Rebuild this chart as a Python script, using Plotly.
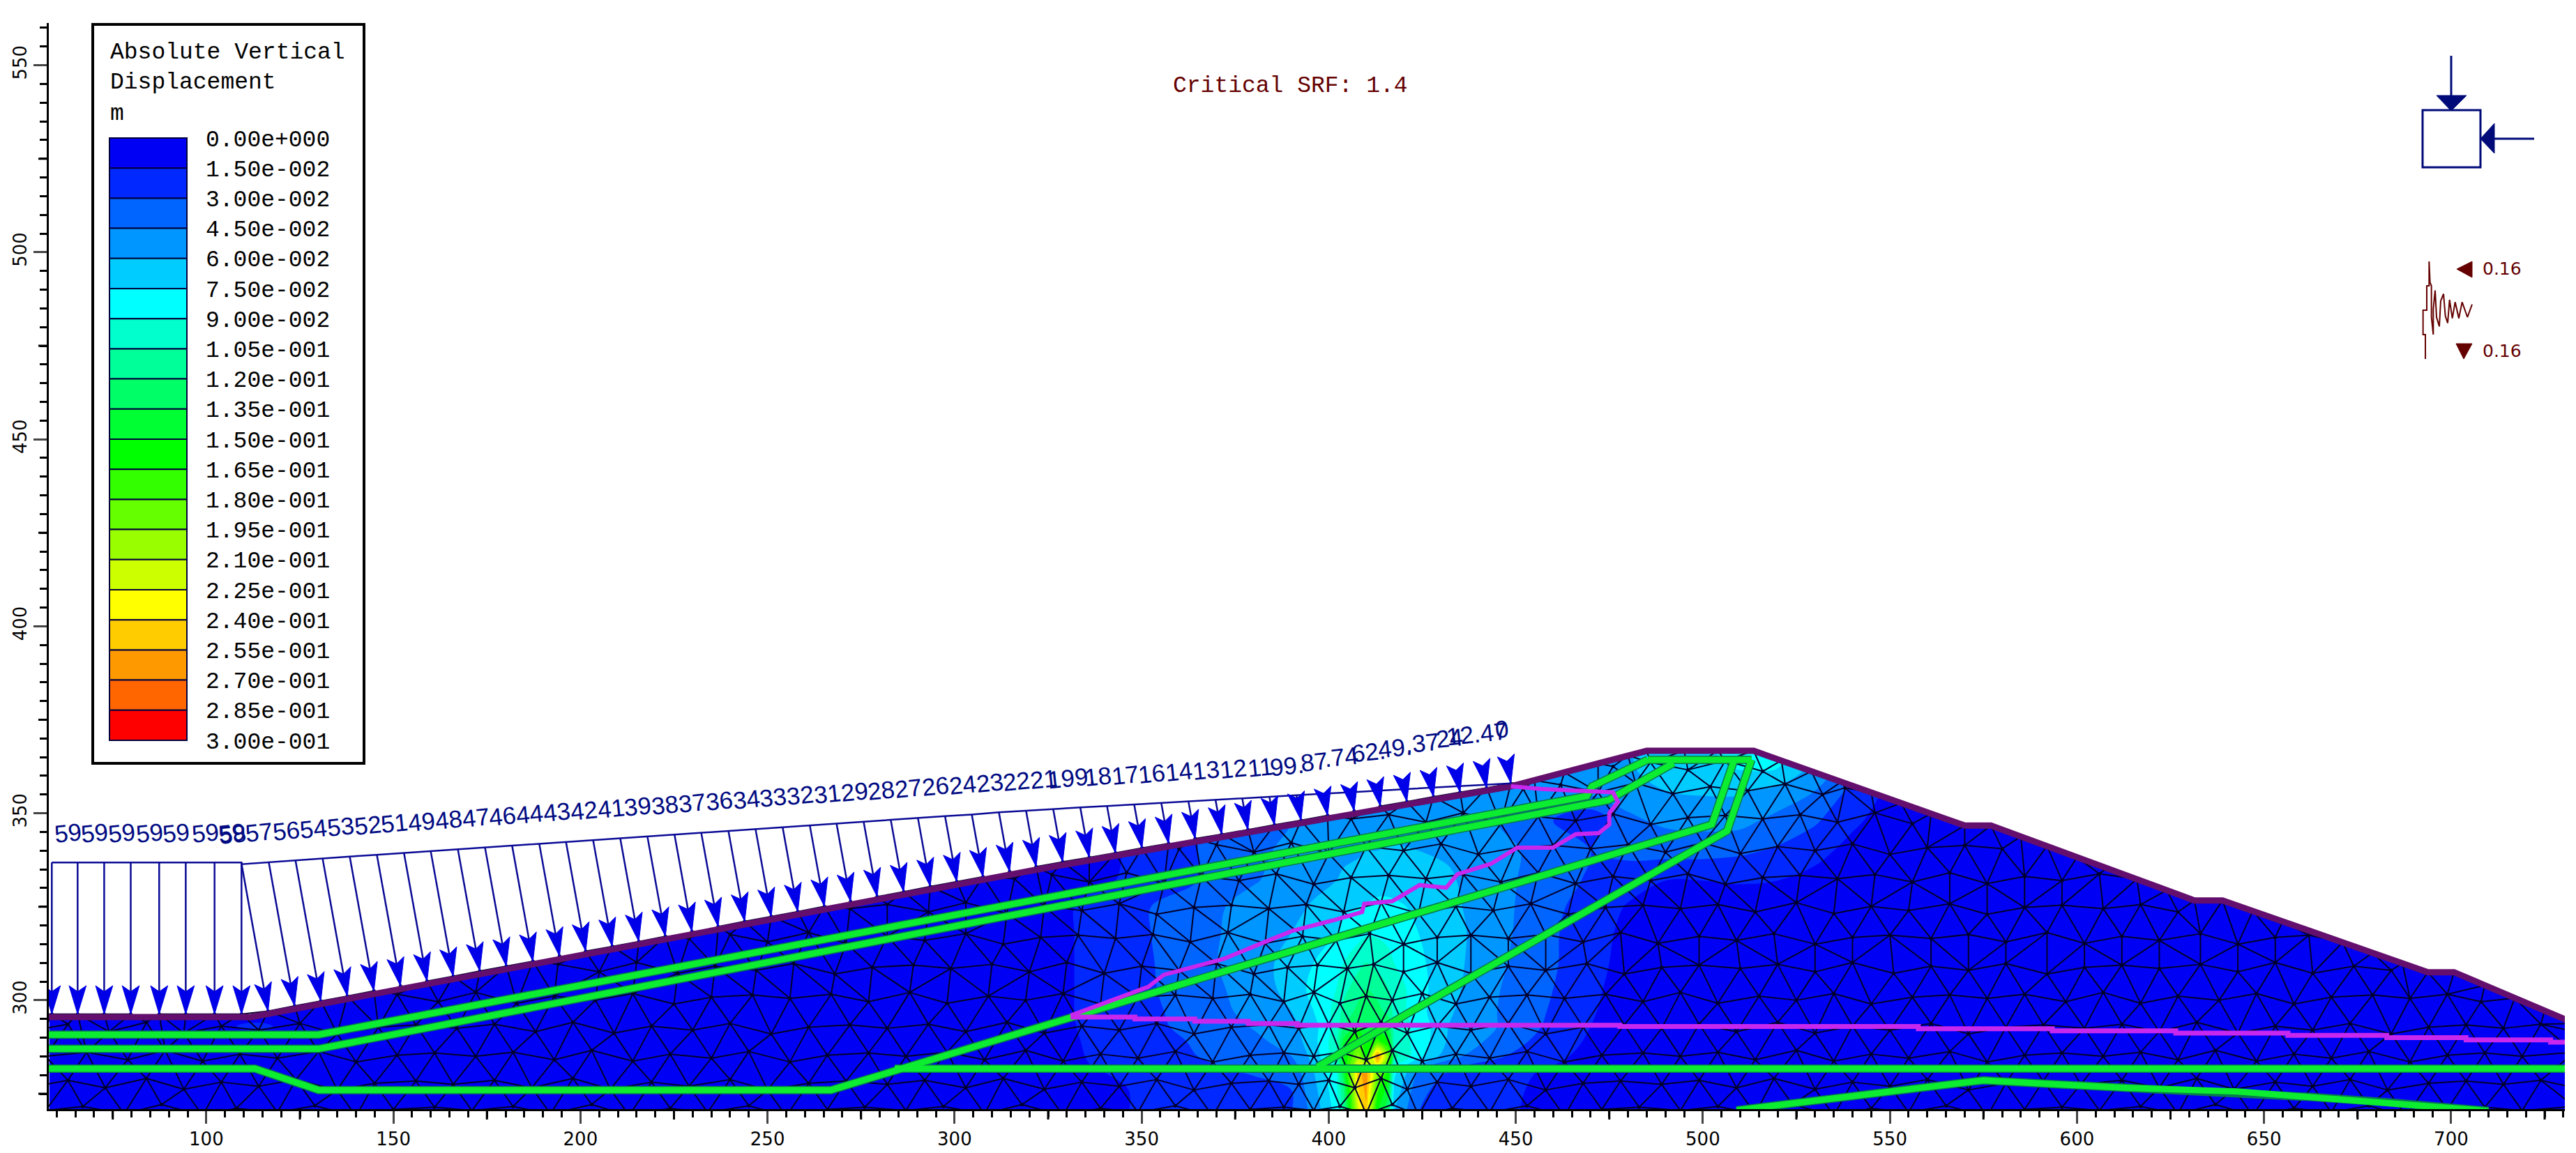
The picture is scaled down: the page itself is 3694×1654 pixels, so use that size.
import numpy as np
import plotly.graph_objects as go

# ---- legend
legend_title = ["Absolute Vertical", "Displacement", "m"]
legend_labels = ["0.00e+000", "1.50e-002", "3.00e-002", "4.50e-002", "6.00e-002", "7.50e-002", "9.00e-002",
                 "1.05e-001", "1.20e-001", "1.35e-001", "1.50e-001", "1.65e-001", "1.80e-001", "1.95e-001",
                 "2.10e-001", "2.25e-001", "2.40e-001", "2.55e-001", "2.70e-001", "2.85e-001", "3.00e-001"]
band_colors = ["#0000f5", "#0028ff", "#0064ff", "#0096ff", "#00ccff", "#00ffff", "#00ffcc", "#00ff99", "#00ff66",
               "#00ff33", "#00ff00", "#33ff00", "#66ff00", "#99ff00", "#ccff00", "#ffff00", "#ffcc00", "#ff9900",
               "#ff6600", "#ff0000"]

# ---- geometry of the dam
surface_x = [57, 112, 324, 448.7, 485, 513.6, 570, 577, 631.4, 638.9, 693.8, 700.8, 733]
surface_y = [295.5, 295.5, 335.3, 357.2, 366.7, 366.7, 346.7, 346.7, 326.7, 326.7, 307.5, 307.5, 293.8]
filter_upper_x = [57, 130, 469, 470.4, 485.3]
filter_upper_y = [290.8, 290.8, 354.6, 357.2, 364.3]
filter_lower_x = [57, 130, 474.8, 477.3, 492.2]
filter_lower_y = [287, 287, 353.5, 355, 363.4]
crest_x = [485.3, 513]
crest_y = [364.3, 364.3]
core_up_x = [57, 113, 130, 267, 332.5, 502.4, 508.4]
core_up_y = [281.7, 281.7, 276, 276, 295.8, 347, 364.3]
core_down_x = [513, 506.5, 421.3, 397]
core_down_y = [364.3, 345.3, 296.6, 282.2]
drain_x = [284, 733]
drain_y = [281.7, 281.7]
hump_x = [509, 565, 575, 593, 613, 643, 663, 683, 703, 710]
hump_y = [270.6, 277.6, 278.6, 277.6, 276.6, 275.6, 274.1, 272.7, 270.9, 270.4]
slip_top_x = [331, 351.8, 355.9, 372, 381.5, 390.4, 401.6, 408.9, 409.5, 417, 424.3, 431.4, 434.4, 443.4, 450.4, 459.9,
              466, 472.2, 475, 475, 477.3, 476, 456.8, 448.7]
slip_top_y = [295.9, 303.6, 306.8, 311.1, 315, 318.6, 321.5, 323.6, 325.8, 326.5, 330.8, 330.1, 333.7, 336.5, 340.8,
              340.8, 344.4, 344.7, 347, 350, 353, 355.6, 356.5, 357.2]
slip_base_x = [331, 348.2, 364.2, 378.5, 391.6, 477.8, 557.6, 593.4, 626.4, 656.4, 682.8, 704, 726.6, 733]
slip_base_y = [295.5, 295, 294.4, 293.8, 293.3, 293, 292.4, 291.8, 291.2, 290.6, 290, 289.4, 288.8, 288.8]

# ---- water load on the upstream face (nodes and kPa)
load_x = [58.7, 65.6, 72.7, 79.8, 87.4, 94.5, 102.2, 109.4, 116.5, 123.6, 130.6, 137.7, 144.8, 151.9, 159, 166, 173.1,
          180.2, 187.3, 194.4, 201.4, 208.5, 215.6, 222.7, 229.8, 236.8, 243.9, 251, 258.1, 265.2, 272.2, 279.3, 286.4,
          293.5, 300.6, 307.6, 314.7, 321.8, 328.9, 336, 343, 350.1, 357.2, 364.3, 371.4, 378.4, 385.5, 392.6, 399.7,
          406.8, 413.8, 420.9, 428, 435.1, 442.2, 448.7]
load_y = [296.3, 296.3, 296.3, 296.3, 296.3, 296.3, 296.3, 296.3, 297.1, 298.5, 299.8, 301.1, 302.5, 303.8, 305.1,
          306.4, 307.8, 309.1, 310.4, 311.8, 313.1, 314.4, 315.7, 317.1, 318.4, 319.7, 321.1, 322.4, 323.7, 325.1,
          326.4, 327.7, 329, 330.4, 331.7, 333, 334.4, 335.7, 337, 338.2, 339.4, 340.7, 341.9, 343.2, 344.4, 345.6,
          346.9, 348.1, 349.4, 350.6, 351.9, 353.1, 354.4, 355.6, 356.8, 358]
load_kpa = [596, 596, 596, 596, 596, 596, 596, 596, 587, 574, 562, 549, 537, 524, 512, 499, 487, 474, 462, 449, 437,
            424, 412, 399, 387, 374, 362, 349, 337, 324, 312, 299, 287, 274, 262, 249, 237, 224, 212, 199.6, 187, 174,
            162, 149, 137, 124.7, 112, 99.8, 87, 74.8, 62, 49.9, 37.4, 24.9, 12.47, 0]
load_text = ["59", "59", "59", "59", "59", "59", "59", "59", "58", "57", "56", "54", "53", "52", "51", "49", "48", "47",
             "46", "44", "43", "42", "41", "39", "38", "37", "36", "34", "33", "32", "31", "29", "28", "27", "26", "24",
             "23", "22", "21", "199.", "18", "17", "16", "14", "13", "12", "11", "99.", "87", ".74", "62.", "49.", ".37",
             "24", "12.47", "0"]

# ---- mesh nodes, row by row
mesh_rows = {
    270.5: [57, 67, 78, 88, 99, 108, 119, 129, 140, 150, 161, 171, 182, 192, 203, 213, 224, 234, 245, 255, 266, 276,
            287, 297, 308, 318, 329, 339, 349, 359, 369, 379, 388, 396, 403, 410, 417, 424, 433, 443, 453, 463, 473,
            483, 494, 504, 514, 524, 535, 545, 555, 565, 576, 586, 596, 606, 617, 627, 637, 647, 658, 668, 678, 688,
            699, 709, 719, 733],
    277.5: [57, 63, 73, 84, 94, 104, 114, 124, 135, 145, 156, 166, 177, 187, 198, 208, 219, 229, 240, 250, 261, 271,
            282, 292, 303, 313, 324, 334, 344, 354, 364, 374, 384, 392, 400, 407, 414, 421, 429, 438, 448, 458, 468,
            478, 489, 499, 509, 519, 530, 540, 550, 560, 571, 581, 591, 601, 612, 622, 632, 642, 653, 663, 673, 683,
            694, 704, 714, 724, 733],
    285: [57, 68, 79, 89, 99, 109, 119, 130, 140, 151, 161, 172, 182, 193, 203, 214, 224, 235, 245, 256, 266, 277, 287,
          298, 308, 319, 329, 339, 349, 359, 369, 379, 388, 396, 403, 410, 417, 425, 434, 443, 453, 463, 473, 484, 494,
          504, 514, 525, 535, 545, 555, 566, 576, 586, 596, 607, 617, 627, 637, 648, 658, 668, 678, 689, 699, 709, 719,
          733],
    292.5: [57, 63, 74, 84, 94, 104, 114, 125, 135, 146, 156, 167, 177, 188, 198, 209, 219, 230, 240, 251, 261, 272, 282,
            293, 303, 314, 324, 334, 344, 354, 364, 374, 384, 392, 400, 407, 414, 421, 429, 438, 448, 458, 468, 479, 489,
            499, 509, 520, 530, 540, 550, 561, 571, 581, 591, 602, 612, 622, 632, 643, 653, 663, 673, 684, 694, 704, 714,
            724, 733],
    300.5: [141, 151, 162, 172, 183, 193, 204, 214, 225, 235, 246, 256, 267, 277, 288, 298, 309, 319, 329, 339, 349, 359,
            369, 379, 388, 396, 403, 410, 417, 425, 434, 443, 453, 463, 474, 484, 494, 504, 515, 525, 535, 545, 556, 566,
            576, 586, 597, 607, 617, 627, 638, 648, 658, 668, 679, 689, 699, 708, 716],
    308.5: [184, 194, 205, 215, 226, 236, 247, 257, 268, 278, 289, 299, 310, 320, 330, 340, 350, 360, 370, 380, 389, 397,
            405, 412, 420, 429, 438, 448, 458, 469, 479, 489, 499, 510, 520, 530, 540, 551, 561, 571, 581, 592, 602, 612,
            622, 633, 643, 653, 663, 674, 684],
    316.5: [229, 240, 250, 261, 271, 282, 292, 303, 313, 323, 333, 343, 353, 363, 373, 383, 393, 402, 411, 420, 429, 438,
            448, 458, 468, 478, 488, 499, 509, 519, 530, 540, 550, 561, 571, 581, 592, 602, 612, 622, 633, 643, 653, 662],
    324.5: [272, 282, 293, 303, 314, 324, 334, 344, 354, 364, 374, 384, 394, 404, 414, 424, 434, 444, 454, 464, 474, 484,
            494, 504, 514, 525, 535, 545, 555, 566, 576, 586, 596, 607, 617, 627, 637],
    332.5: [316, 326, 336, 346, 356, 366, 376, 386, 396, 406, 416, 426, 436, 446, 456, 466, 476, 486, 496, 506, 516, 526,
            536, 546, 556, 566, 576, 586, 596, 606],
    340.5: [360, 370, 380, 390, 400, 410, 420, 430, 440, 450, 460, 470, 480, 490, 500, 510, 520, 530, 540, 550, 560, 570,
            580],
    348.5: [406, 416, 426, 436, 446, 456, 466, 476, 486, 496, 506, 516, 526, 536, 546, 556],
    356.5: [452, 462, 472, 482, 492, 502, 512, 522, 532, 538],
    362.5: [476, 486, 496, 506, 516, 524],
}
# the rows in the picture are not straight, nodes sit a little above or below
row_jog = [0, 1.1, -0.9, 1.6, -1.3, 0.6, -0.5, 1.3, -1.5, 0.3, 0.9]
crest_nodes_x = [455, 463, 472, 480, 485, 495, 504, 513.6, 521, 529, 537, 545, 553, 561, 570, 577, 585, 592, 600, 608,
                 616, 624, 631.4, 638.9, 647, 655, 663, 671, 679, 687, 693.8, 700.8, 709, 717, 725, 733]
crest_nodes_y = [358.8, 360.9, 363.3, 365.4, 366.7, 366.7, 366.7, 366.7, 364.1, 361.2, 358.4, 355.6, 352.7, 349.9, 346.7,
                 346.7, 343.8, 341.2, 338.2, 335.3, 332.4, 329.4, 326.7, 326.7, 323.9, 321.1, 318.3, 315.5, 312.7, 309.9,
                 307.5, 307.5, 304, 300.6, 297.2, 293.8]

# ---- displacement field (m)
field_x = [58, 100, 110, 116, 125, 200, 300, 328, 336, 350, 365, 380, 390, 396, 402, 404, 408, 410, 413, 416, 417.5, 424,
           432, 445, 460, 470, 480, 490, 500, 510, 520, 530, 540, 550, 560, 733]
field_y = [270, 276, 281, 285, 289, 293, 297, 303, 310, 318, 325, 332, 340, 348, 356, 362, 368, 372]
z_270 = [.007, .007, .007, .007, .007, .007, .007, .007, .012, .016, .018, .02,
         .03, .05, .08, .11, .22, .25, .15, .12, .06, .03,
         .02, .017, .012, .009, .007, .007, .007, .007, .007, .007, .007, .007, .007, .007]
z_276 = [.007, .007, .007, .007, .007, .007, .007, .007, .012, .016, .02, .024,
         .03, .055, .085, .12, .24, .26, .17, .14, .07, .035,
         .022, .018, .012, .009, .007, .007, .007, .007, .007, .007, .007, .007, .007, .007]
z_281 = [.007, .007, .007, .007, .007, .007, .007, .008, .014, .018, .025, .032,
         .035, .06, .09, .14, .25, .26, .2, .16, .08, .045,
         .03, .02, .013, .01, .007, .007, .007, .007, .007, .007, .007, .007, .007, .007]
z_285 = [.007, .007, .007, .007, .007, .007, .007, .009, .016, .02, .03, .038,
         .045, .065, .1, .15, .2, .16, .27, .19, .11, .08,
         .05, .032, .018, .011, .008, .007, .007, .007, .007, .007, .007, .007, .007, .007]
z_289 = [.007, .007, .007, .007, .007, .007, .007, .01, .017, .022, .032, .042,
         .05, .07, .1, .14, .18, .15, .17, .15, .1, .085,
         .058, .04, .022, .013, .009, .007, .007, .007, .007, .007, .007, .007, .007, .007]
z_293 = [.007, .007, .017, .017, .007, .007, .007, .011, .018, .025, .035, .046,
         .055, .07, .095, .12, .14, .13, .14, .13, .1, .085,
         .06, .045, .026, .015, .01, .007, .007, .007, .007, .007, .007, .007, .007, .007]
z_297 = [.007, .007, .007, .007, .007, .007, .007, .012, .018, .026, .036, .05,
         .06, .075, .095, .11, .125, .125, .125, .115, .1, .08,
         .062, .045, .028, .016, .01, .008, .007, .007, .007, .007, .007, .007, .007, .007]
z_303 = [.007, .007, .007, .007, .007, .007, .007, .012, .018, .027, .038, .052,
         .065, .08, .09, .1, .115, .12, .115, .105, .1, .08,
         .065, .046, .03, .017, .011, .008, .007, .007, .007, .007, .007, .007, .007, .007]
z_310 = [.007, .007, .007, .007, .007, .007, .007, .012, .018, .027, .04, .054,
         .065, .075, .085, .09, .1, .105, .1, .095, .09, .078,
         .066, .048, .032, .018, .012, .008, .007, .007, .007, .007, .007, .007, .007, .007]
z_318 = [.007, .007, .007, .007, .007, .007, .007, .012, .018, .028, .04, .052,
         .06, .068, .075, .08, .085, .088, .088, .085, .083, .075,
         .066, .05, .032, .02, .012, .008, .007, .007, .007, .007, .007, .007, .007, .007]
z_325 = [.007, .007, .007, .007, .007, .007, .007, .012, .018, .028, .04, .05,
         .055, .062, .068, .072, .075, .076, .078, .078, .077, .073,
         .064, .05, .034, .022, .014, .012, .01, .009, .008, .007, .007, .007, .007, .007]
z_332 = [.007, .007, .007, .007, .007, .007, .007, .008, .012, .018, .03, .044,
         .05, .055, .06, .063, .066, .068, .07, .07, .07, .068,
         .062, .05, .036, .028, .02, .015, .015, .016, .015, .01, .007, .007, .007, .007]
z_340 = [.007, .007, .007, .007, .007, .007, .007, .007, .01, .018, .03, .042,
         .048, .05, .053, .056, .058, .06, .06, .062, .062, .06,
         .058, .05, .038, .03, .035, .036, .036, .033, .028, .02, .01, .007, .007, .007]
z_348 = [.007, .007, .007, .007, .007, .007, .007, .007, .01, .018, .03, .04,
         .045, .048, .05, .05, .052, .052, .053, .053, .053, .052,
         .05, .045, .03, .018, .042, .048, .05, .05, .04, .032, .018, .008, .007, .007]
z_356 = [.007, .007, .007, .007, .007, .007, .007, .007, .01, .018, .03, .04,
         .05, .05, .05, .05, .05, .05, .05, .05, .05, .05,
         .05, .05, .05, .05, .052, .06, .062, .062, .056, .045, .026, .012, .007, .007]
z_362 = [.007, .007, .007, .007, .007, .007, .007, .007, .01, .018, .03, .04,
         .05, .05, .05, .05, .05, .05, .05, .05, .05, .05,
         .05, .05, .05, .05, .058, .068, .07, .076, .075, .055, .035, .015, .008, .007]
z_368 = [.007, .007, .007, .007, .007, .007, .007, .007, .01, .018, .03, .04,
         .05, .05, .05, .05, .05, .05, .05, .05, .05, .05,
         .05, .05, .05, .05, .058, .07, .072, .085, .082, .06, .035, .015, .008, .007]
z_372 = [.007, .007, .007, .007, .007, .007, .007, .007, .01, .018, .03, .04,
         .05, .05, .05, .05, .05, .05, .05, .05, .05, .05,
         .05, .05, .05, .05, .058, .07, .072, .085, .082, .06, .035, .015, .008, .007]
field_z = [z_270, z_276, z_281, z_285, z_289, z_293, z_297, z_303, z_310, z_318, z_325, z_332, z_340, z_348, z_356,
           z_362, z_368, z_372]

# ---- seismic trace next to the coefficient labels (picture pixels)
seismic_x = [384, 384, 374, 374, 390, 390, 400, 400, 404, 410, 410, 418, 418, 426, 432, 444, 450, 462, 470, 480, 488,
             500, 512, 528, 542, 565, 585]
seismic_y = [1395, 1290, 1290, 1185, 1185, 1080, 1080, 975, 1065, 1080, 1215, 1290, 1180, 1100, 1215, 1255, 1145, 1115,
             1210, 1240, 1140, 1220, 1150, 1220, 1150, 1215, 1160]

NAVY = "#000a78"
DARKRED = "#640000"
GREEN = "#0cec30"
WIDTH, HEIGHT = 3694, 1654


def triangulate(points):
    # plain Bowyer-Watson, there is no scipy here
    pts = list(points) + [(-5000.0, -5000.0), (6000.0, -5000.0), (400.0, 7000.0)]
    n = len(points)

    def circle(a, b, c):
        ax, ay = pts[a]
        bx, by = pts[b]
        cx, cy = pts[c]
        d = 2 * (ax * (by - cy) + bx * (cy - ay) + cx * (ay - by))
        if abs(d) < 1e-9:
            return (0.0, 0.0, 1e18)
        ux = ((ax**2 + ay**2) * (by - cy) + (bx**2 + by**2) * (cy - ay) + (cx**2 + cy**2) * (ay - by)) / d
        uy = ((ax**2 + ay**2) * (cx - bx) + (bx**2 + by**2) * (ax - cx) + (cx**2 + cy**2) * (bx - ax)) / d
        return (ux, uy, (ax - ux)**2 + (ay - uy)**2)

    tris = {(n, n + 1, n + 2): circle(n, n + 1, n + 2)}
    for i in range(n):
        px, py = pts[i]
        bad = [t for t, c in tris.items() if (px - c[0])**2 + (py - c[1])**2 < c[2] - 1e-7]
        count = {}
        for t in bad:
            for e in ((t[0], t[1]), (t[1], t[2]), (t[0], t[2])):
                e = tuple(sorted(e))
                count[e] = count.get(e, 0) + 1
            del tris[t]
        for e, k in count.items():
            if k == 1:
                t = tuple(sorted((e[0], e[1], i)))
                tris[t] = circle(*t)
    return [t for t in tris if max(t) < n]


# mesh wireframe
nodes = set()
for row_y, row_x in mesh_rows.items():
    for k, v in enumerate(row_x):
        y = float(row_y) + row_jog[k % len(row_jog)]
        # keep the jogged node under the ground line
        if y < np.interp(v, surface_x, surface_y) - 0.8:
            nodes.add((float(v), y))
nodes.update((float(a), float(b)) for a, b in zip(load_x, load_y))
nodes.update((float(a), float(b)) for a, b in zip(crest_nodes_x, crest_nodes_y))
nodes.update([(57.0, 296.3), (733.0, 293.8)])
nodes = sorted(nodes)
edges = set()
for tri in triangulate(nodes):
    cx = sum(nodes[k][0] for k in tri) / 3
    cy = sum(nodes[k][1] for k in tri) / 3
    if cy > np.interp(cx, surface_x, surface_y):
        continue
    for e in ((tri[0], tri[1]), (tri[1], tri[2]), (tri[0], tri[2])):
        edges.add(tuple(sorted(e)))
mesh_x, mesh_y = [], []
for a, b in edges:
    mesh_x += [nodes[a][0], nodes[b][0], None]
    mesh_y += [nodes[a][1], nodes[b][1], None]

# load arrows: shaft length follows the pressure, direction is normal to the face
shaft_x, shaft_y, head_x, head_y, top_x, top_y, label_y = [], [], [], [], [], [], []
for x, y, p in zip(load_x, load_y, load_kpa):
    slope = 0.0 if x < 112 else 0.18
    norm = np.hypot(slope, 1)
    nx, ny = -slope / norm, 1 / norm
    tail_x, tail_y = x + p * 0.068 * nx, y + p * 0.068 * ny
    top_x.append(tail_x)
    top_y.append(tail_y)
    shaft_x += [x, tail_x, None]
    shaft_y += [y, tail_y, None]
    label_y.append(max(tail_y + 8, y + 14.5))
    # chevron shaped head
    head_x += [x, x + 7.6 * nx - 2.3 * ny, x + 6 * nx, x + 7.6 * nx + 2.3 * ny, x, None]
    head_y += [y, y + 7.6 * ny + 2.3 * nx, y + 6 * ny, y + 7.6 * ny - 2.3 * nx, y, None]

fig = go.Figure()

step_scale = []
for i, c in enumerate(band_colors):
    step_scale += [[i / 20, c], [(i + 1) / 20, c]]
fig.add_trace(go.Contour(x=field_x, y=field_y, z=field_z, zmin=0, zmax=0.3, colorscale=step_scale, showscale=False,
                         autocontour=False, contours=dict(start=0, end=0.3, size=0.015, coloring="fill", showlines=False),
                         line=dict(width=0), hoverinfo="skip"))

# white out the field above the ground line
fig.add_trace(go.Scatter(x=surface_x + [733, 57], y=surface_y + [380, 380], fill="toself", fillcolor="white",
                         mode="none", hoverinfo="skip"))
fig.add_trace(go.Scatter(x=mesh_x, y=mesh_y, mode="lines", line=dict(color="#00002a", width=2), hoverinfo="skip"))
fig.add_trace(go.Scatter(x=[p[0] for p in nodes], y=[p[1] for p in nodes], mode="markers",
                         marker=dict(color="#00002a", size=5), hoverinfo="skip"))
fig.add_trace(go.Scatter(x=surface_x, y=surface_y, mode="lines", line=dict(color="#640f6e", width=9), hoverinfo="skip"))

green_lines = [(filter_upper_x, filter_upper_y), (filter_lower_x, filter_lower_y), (crest_x, crest_y),
               (core_up_x, core_up_y), (core_down_x, core_down_y), (drain_x, drain_y), (hump_x, hump_y)]
for gx, gy in green_lines:
    fig.add_trace(go.Scatter(x=gx, y=gy, mode="lines", line=dict(color="#087a50", width=12), hoverinfo="skip"))
for gx, gy in green_lines:
    fig.add_trace(go.Scatter(x=gx, y=gy, mode="lines", line=dict(color=GREEN, width=9), hoverinfo="skip"))
fig.add_trace(go.Scatter(x=slip_top_x, y=slip_top_y, mode="lines", line=dict(color="#c828ee", width=6), hoverinfo="skip"))
fig.add_trace(go.Scatter(x=slip_base_x, y=slip_base_y, mode="lines", line=dict(color="#c828ee", width=7, shape="hv"),
                         hoverinfo="skip"))

fig.add_trace(go.Scatter(x=top_x, y=top_y, mode="lines", line=dict(color="#0a0a96", width=2.5), hoverinfo="skip"))
fig.add_trace(go.Scatter(x=shaft_x, y=shaft_y, mode="lines", line=dict(color="#0a0a96", width=2.5), hoverinfo="skip"))
fig.add_trace(go.Scatter(x=head_x, y=head_y, mode="lines", fill="toself", fillcolor="#0000e8",
                         line=dict(color="#0000e8", width=1), hoverinfo="skip"))

# the wiggle sits on an overlay axis that counts picture pixels
fig.add_trace(go.Scatter(x=[3350 + v / 3 for v in seismic_x], y=[50 + v / 3 for v in seismic_y], xaxis="x2", yaxis="y2",
                         mode="lines", line=dict(color=DARKRED, width=2), hoverinfo="skip"))

shapes = []
annotations = []

# third tick level, every 25
for v in range(75, 730, 50):
    shapes.append(dict(type="line", xref="x", yref="y2", x0=v, x1=v, y0=1591, y1=1606, line=dict(color="black", width=3)))
for v in range(275, 560, 50):
    shapes.append(dict(type="line", xref="x2", yref="y", x0=55, x1=70, y0=v, y1=v, line=dict(color="black", width=3)))

# colour legend
shapes.append(dict(type="rect", xref="x2", yref="y2", x0=133, x1=522, y0=35, y1=1095, fillcolor="white",
                   line=dict(color="black", width=4)))
for i, c in enumerate(band_colors):
    shapes.append(dict(type="rect", xref="x2", yref="y2", x0=157, x1=268, y0=198 + i * 43.2, y1=198 + (i + 1) * 43.2,
                       fillcolor=c, line=dict(color="#00003c", width=2)))
for i, t in enumerate(legend_labels):
    annotations.append(dict(xref="x2", yref="y2", x=293, y=201 + i * 43.2, text=t, showarrow=False, xanchor="left",
                            font=dict(family="Liberation Mono", size=33, color="black")))
for t, y in zip(legend_title, [75, 118, 163]):
    annotations.append(dict(xref="x2", yref="y2", x=156, y=y, text=t, showarrow=False, xanchor="left",
                            font=dict(family="Liberation Mono", size=33, color="black")))

annotations.append(dict(xref="x2", yref="y2", x=1850, y=123, text="Critical SRF: 1.4", showarrow=False,
                        font=dict(family="Liberation Mono", size=33, color=DARKRED)))

# load labels
for x, y, t in zip(top_x, label_y, load_text):
    annotations.append(dict(xref="x", yref="y", x=x - 2.5, y=y, text=t, showarrow=False, textangle=-6,
                            font=dict(family="Liberation Sans", size=35, color="#000a82")))

# stress ratio glyph
shapes.append(dict(type="rect", xref="x2", yref="y2", x0=3474, x1=3557, y0=158, y1=240, line=dict(color=NAVY, width=3)))
shapes.append(dict(type="line", xref="x2", yref="y2", x0=3515, x1=3515, y0=80, y1=140, line=dict(color=NAVY, width=3)))
shapes.append(dict(type="line", xref="x2", yref="y2", x0=3575, x1=3634, y0=199, y1=199, line=dict(color=NAVY, width=3)))
shapes.append(dict(type="path", xref="x2", yref="y2", path="M3494,137 L3537,137 L3515,159 Z", fillcolor=NAVY,
                   line=dict(color=NAVY, width=1)))
shapes.append(dict(type="path", xref="x2", yref="y2", path="M3577,177 L3577,220 L3557,199 Z", fillcolor=NAVY,
                   line=dict(color=NAVY, width=1)))
shapes.append(dict(type="path", xref="x2", yref="y2", path="M3523,386 L3545,375 L3545,398 Z", fillcolor=DARKRED,
                   line=dict(color=DARKRED, width=1)))
shapes.append(dict(type="path", xref="x2", yref="y2", path="M3522,493 L3545,493 L3533,515 Z", fillcolor=DARKRED,
                   line=dict(color=DARKRED, width=1)))
for y in [385, 503]:
    annotations.append(dict(xref="x2", yref="y2", x=3558, y=y, text="0.16", showarrow=False, xanchor="left",
                            font=dict(family="DejaVu Sans", size=25, color=DARKRED)))

axis_font = dict(family="DejaVu Sans", size=26, color="black")
fig.update_layout(
    width=WIDTH, height=HEIGHT, margin=dict(l=0, r=0, t=0, b=0), showlegend=False,
    paper_bgcolor="white", plot_bgcolor="rgba(0,0,0,0)",
    xaxis=dict(domain=[70 / WIDTH, 3678 / WIDTH], range=[57.9, 730.4], showgrid=False, zeroline=False,
               showline=True, linecolor="black", linewidth=3, ticks="outside", ticklen=18, tickwidth=3,
               tick0=0, dtick=50, tickfont=axis_font, anchor="y",
               minor=dict(dtick=5, ticks="outside", ticklen=9, tickwidth=3, tickcolor="black", showgrid=False)),
    yaxis=dict(domain=[1 - 1591 / HEIGHT, 1 - 33 / HEIGHT], range=[270.9, 561.3], showgrid=False, zeroline=False,
               showline=True, linecolor="black", linewidth=3, ticks="outside", ticklen=19, tickwidth=3,
               tick0=0, dtick=50, tickangle=-90, tickfont=axis_font, anchor="x",
               minor=dict(dtick=5, ticks="outside", ticklen=10, tickwidth=3, tickcolor="black", showgrid=False)),
    xaxis2=dict(domain=[0, 1], range=[0, WIDTH], visible=False, anchor="y2"),
    yaxis2=dict(domain=[0, 1], range=[HEIGHT, 0], visible=False, anchor="x2"),
    shapes=shapes, annotations=annotations,
)

fig.write_html("out.html", config=dict(displayModeBar=False),
               post_script="document.body.style.margin='0';document.body.style.overflow='hidden';")
